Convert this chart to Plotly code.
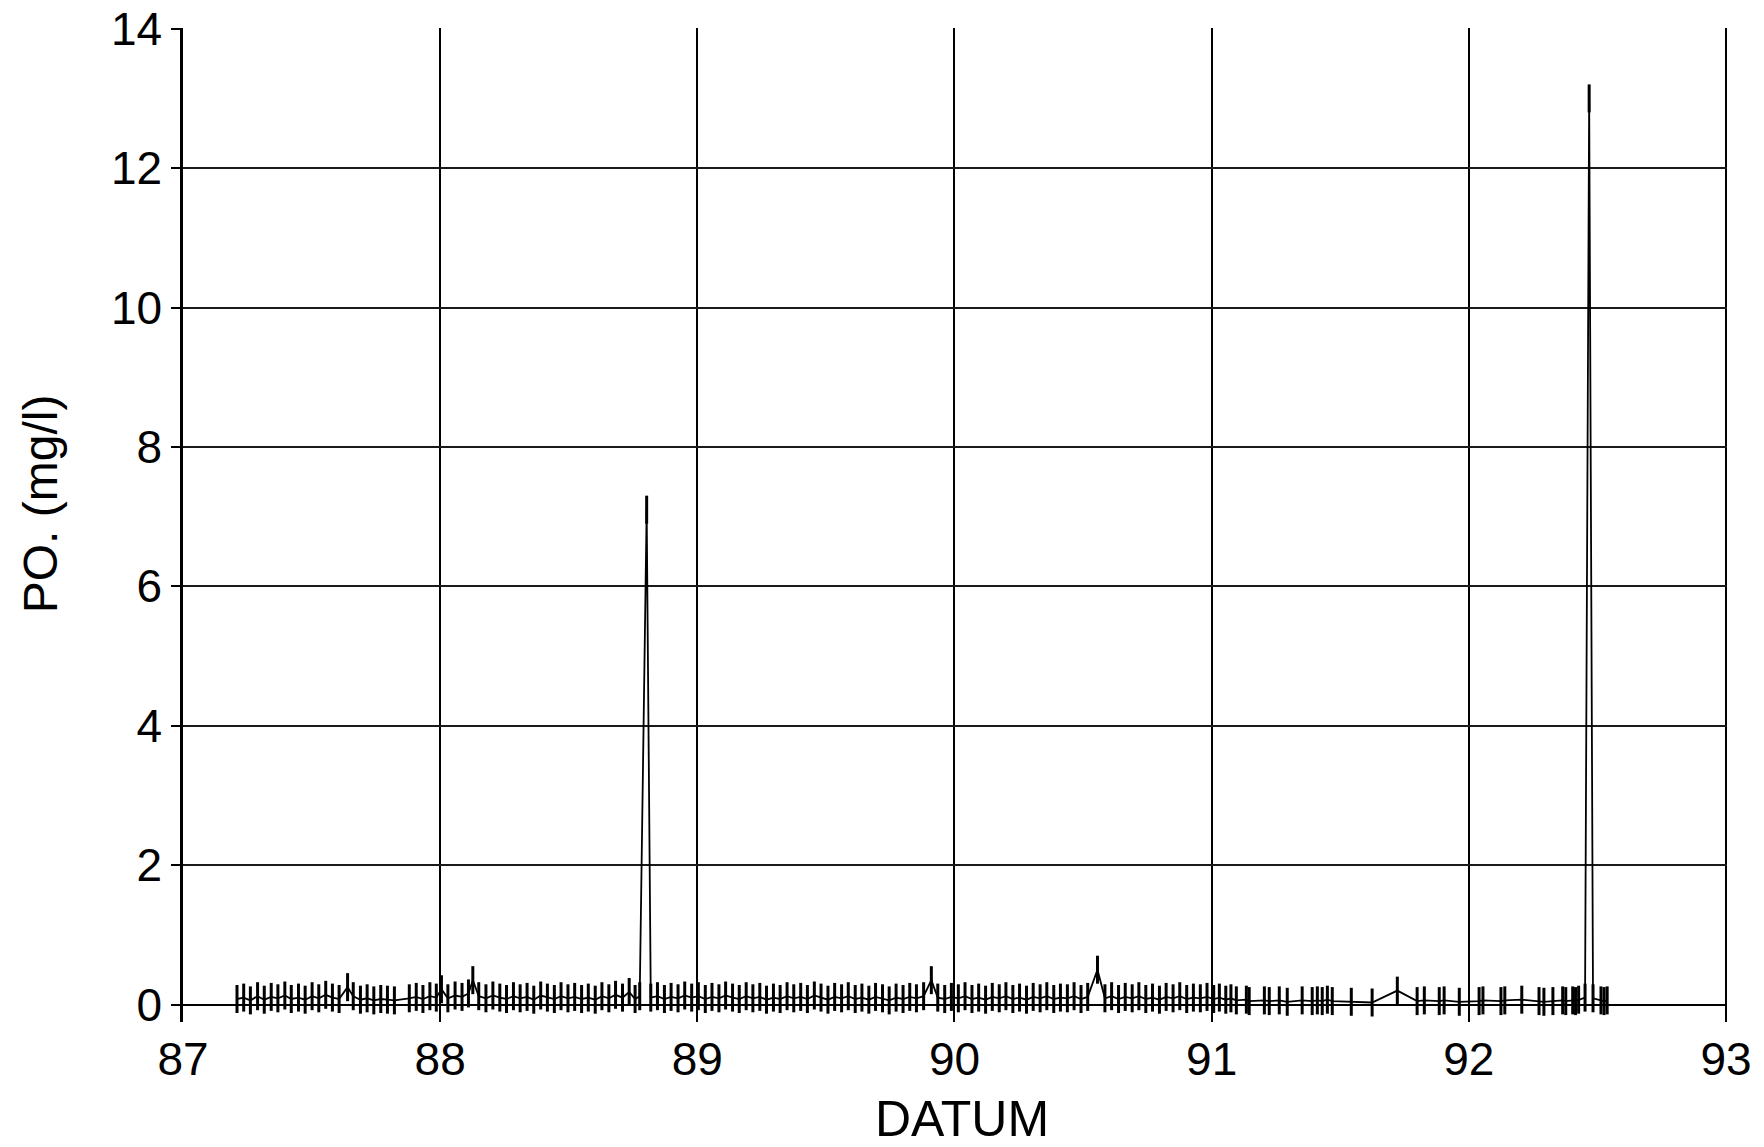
import plotly.graph_objects as go

# Sampling dates (decimal years, 19xx) and phosphate concentration PO4 in mg/l
datum = [
    87.210, 87.236, 87.262, 87.290, 87.316, 87.343, 87.369, 87.396, 87.421, 87.449,
    87.475, 87.502, 87.528, 87.555, 87.581, 87.607, 87.640, 87.662, 87.690, 87.716,
    87.742, 87.769, 87.795, 87.822, 87.880, 87.907, 87.933, 87.960, 87.985, 88.005,
    88.030, 88.058, 88.085, 88.110, 88.127, 88.150, 88.178, 88.205, 88.232, 88.258,
    88.285, 88.311, 88.338, 88.364, 88.391, 88.417, 88.444, 88.470, 88.497, 88.523,
    88.550, 88.576, 88.603, 88.629, 88.656, 88.682, 88.709, 88.735, 88.758, 88.776,
    88.803, 88.819, 88.845, 88.872, 88.898, 88.925, 88.951, 88.978, 89.004, 89.031,
    89.057, 89.084, 89.110, 89.137, 89.163, 89.190, 89.216, 89.243, 89.269, 89.296,
    89.322, 89.349, 89.375, 89.402, 89.428, 89.455, 89.481, 89.508, 89.534, 89.561,
    89.587, 89.614, 89.640, 89.667, 89.693, 89.720, 89.746, 89.773, 89.800, 89.826,
    89.852, 89.880, 89.910, 89.935, 89.962, 89.988, 90.015, 90.041, 90.068, 90.094,
    90.121, 90.147, 90.174, 90.200, 90.227, 90.253, 90.280, 90.306, 90.333, 90.359,
    90.386, 90.412, 90.439, 90.465, 90.492, 90.518, 90.556, 90.585, 90.611, 90.638,
    90.664, 90.691, 90.717, 90.744, 90.770, 90.797, 90.823, 90.850, 90.876, 90.903,
    90.929, 90.956, 90.982, 91.008, 91.030, 91.055, 91.075, 91.096, 91.135, 91.146,
    91.205, 91.224, 91.263, 91.294, 91.352, 91.391, 91.411, 91.430, 91.450, 91.469,
    91.543, 91.624, 91.722, 91.799, 91.827, 91.885, 91.904, 91.963, 92.040, 92.055,
    92.125, 92.140, 92.206, 92.273, 92.292, 92.327, 92.365, 92.377, 92.404, 92.415,
    92.427, 92.452, 92.468, 92.483, 92.514, 92.526, 92.538,
]
po4 = [
    0.08, 0.10, 0.06, 0.12, 0.07, 0.11, 0.09, 0.13, 0.08, 0.10,
    0.07, 0.12, 0.09, 0.14, 0.10, 0.08, 0.25, 0.12, 0.07, 0.09,
    0.06, 0.08, 0.07, 0.06, 0.09, 0.11, 0.08, 0.12, 0.10, 0.22,
    0.09, 0.13, 0.11, 0.16, 0.35, 0.12, 0.09, 0.13, 0.10, 0.08,
    0.12, 0.09, 0.11, 0.07, 0.13, 0.10, 0.08, 0.12, 0.09, 0.11,
    0.08, 0.10, 0.07, 0.12, 0.09, 0.14, 0.10, 0.18, 0.08, 0.12,
    7.10, 0.10, 0.12, 0.08, 0.11, 0.09, 0.13, 0.10, 0.12, 0.08,
    0.11, 0.09, 0.13, 0.10, 0.08, 0.12, 0.09, 0.11, 0.07, 0.10,
    0.08, 0.12, 0.09, 0.11, 0.08, 0.13, 0.10, 0.07, 0.11, 0.09,
    0.12, 0.08, 0.10, 0.07, 0.11, 0.09, 0.06, 0.10, 0.08, 0.11,
    0.09, 0.12, 0.35, 0.10, 0.08, 0.11, 0.09, 0.12, 0.08, 0.10,
    0.07, 0.11, 0.09, 0.12, 0.08, 0.10, 0.07, 0.11, 0.09, 0.12,
    0.08, 0.10, 0.09, 0.12, 0.08, 0.11, 0.50, 0.09, 0.12, 0.08,
    0.11, 0.09, 0.12, 0.08, 0.10, 0.07, 0.11, 0.09, 0.12, 0.08,
    0.10, 0.09, 0.11, 0.08, 0.10, 0.07, 0.09, 0.06, 0.07, 0.05,
    0.06, 0.05, 0.06, 0.04, 0.06, 0.05, 0.06, 0.05, 0.07, 0.05,
    0.04, 0.03, 0.20, 0.05, 0.06, 0.05, 0.06, 0.04, 0.05, 0.06,
    0.05, 0.06, 0.07, 0.05, 0.04, 0.05, 0.06, 0.05, 0.06, 0.05,
    0.07, 0.10, 13.00, 0.09, 0.06, 0.05, 0.06,
]

x_ticks = [87, 88, 89, 90, 91, 92, 93]
y_ticks = [0, 2, 4, 6, 8, 10, 12, 14]

fig = go.Figure()
fig.add_trace(go.Scatter(
    x=datum, y=po4,
    mode="lines+markers",
    line=dict(color="black", width=1.8),
    marker=dict(symbol="line-ns", size=20, color="black",
                line=dict(color="black", width=3)),
    showlegend=False,
))

font = "Liberation Sans, Arial, sans-serif"
fig.update_layout(
    width=1764, height=1147,
    margin=dict(l=183, r=37, t=28, b=125),
    paper_bgcolor="white", plot_bgcolor="white",
    font=dict(family=font, color="black", size=44),
    xaxis=dict(
        range=[87, 93.004], tickvals=x_ticks, ticktext=[str(v) for v in x_ticks],
        showgrid=True, gridcolor="black", gridwidth=2,
        showline=False, zeroline=False, automargin=False,
        ticks="", tickfont=dict(size=46), ticklabelstandoff=6,
    ),
    yaxis=dict(
        range=[-0.25, 14.01], tickvals=y_ticks, ticktext=[str(v) for v in y_ticks],
        showgrid=True, gridcolor="#1a1a1a", gridwidth=1.5,
        showline=True, linecolor="black", linewidth=2.5,
        zeroline=True, zerolinecolor="black", zerolinewidth=1.5,
        ticks="outside", ticklen=9, tickcolor="black", tickwidth=1.5,
        tickfont=dict(size=46), automargin=False,
    ),
    annotations=[
        dict(text="DATUM", xref="paper", yref="paper", x=0.5045, y=-0.098,
             xanchor="center", yanchor="middle", showarrow=False,
             font=dict(size=50)),
        dict(text="PO. (mg/l)", xref="paper", yref="paper", x=-0.0925, y=0.521,
             xanchor="center", yanchor="middle", showarrow=False, textangle=-90,
             font=dict(size=48)),
    ],
)

fig.write_html("out.html")
